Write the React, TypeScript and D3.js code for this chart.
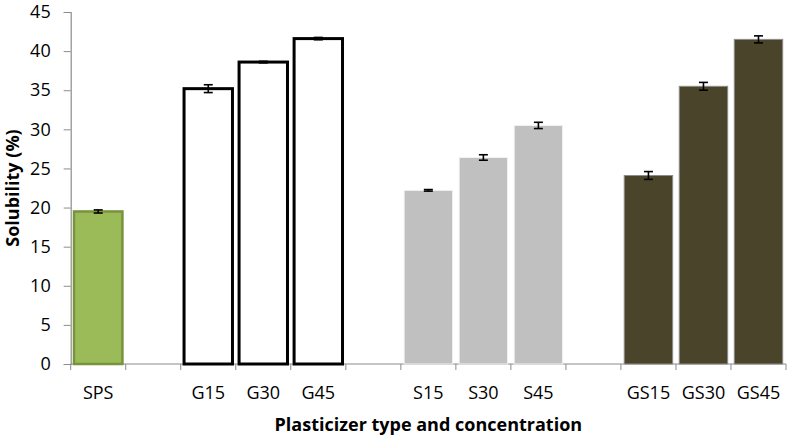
import React, { useEffect, useRef } from "react";
import * as d3 from "d3";

// categories ("" = empty slot between groups)
const categories = ["SPS", "", "G15", "G30", "G45", "", "S15", "S30", "S45", "", "GS15", "GS30", "GS45"];
const solubility = [19.5, null, 35.2, 38.6, 41.6, null, 22.2, 26.4, 30.5, null, 24.1, 35.5, 41.5];
const errors = [0.2, null, 0.5, 0.1, 0.15, null, 0.1, 0.35, 0.4, null, 0.5, 0.5, 0.45];
const groups = ["SPS", "", "G", "G", "G", "", "S", "S", "S", "", "GS", "GS", "GS"];
const yTicks = [0, 5, 10, 15, 20, 25, 30, 35, 40, 45];

const styles: Record<string, { fill: string; stroke: string; width: number }> = {
    SPS: { fill: "#9bbb59", stroke: "#77933c", width: 2.5 },
    G: { fill: "#ffffff", stroke: "#000000", width: 3 },
    S: { fill: "#c0c0c0", stroke: "#f2f2f2", width: 1 },
    GS: { fill: "#4a452a", stroke: "#8c8c8c", width: 1 },
};

const App = () => {
    const ref = useRef<SVGSVGElement>(null);

    useEffect(() => {
        const svg = d3.select(ref.current);
        svg.selectAll("*").remove();

        const width = 788;
        const height = 438;
        const margin = { top: 12, right: 2, bottom: 74, left: 70.7 };
        const font = "'Open Sans', 'Noto Sans', sans-serif";
        const fs = 18;

        const x = d3
            .scaleBand<number>()
            .domain(d3.range(categories.length))
            .range([margin.left, width - margin.right])
            .paddingInner(0.12)
            .paddingOuter(0.06);

        const y = d3
            .scaleLinear()
            .domain([0, 45])
            .range([height - margin.bottom, margin.top]);

        const axisColor = "#8c8c8c";

        // y axis
        const yAxis = svg
            .append("g")
            .attr("transform", `translate(${margin.left},0)`)
            .call(d3.axisLeft(y).tickValues(yTicks).tickSize(7).tickPadding(13));
        yAxis.select(".domain").attr("stroke", axisColor).attr("stroke-width", 1.2);
        yAxis.selectAll(".tick line").attr("stroke", axisColor);
        yAxis
            .selectAll(".tick text")
            .attr("font-family", font)
            .attr("font-size", fs)
            .attr("fill", "#000");

        // x axis: ticks at slot boundaries
        const step = x.step();
        const x0 = margin.left;
        const boundaries = d3.range(categories.length + 1).map((i) => x0 + i * step);
        const xg = svg.append("g");
        xg.append("line")
            .attr("x1", margin.left)
            .attr("x2", width - margin.right)
            .attr("y1", y(0))
            .attr("y2", y(0))
            .attr("stroke", axisColor)
            .attr("stroke-width", 1.2);
        xg.selectAll("line.tick")
            .data(boundaries)
            .enter()
            .append("line")
            .attr("class", "tick")
            .attr("x1", (d) => d)
            .attr("x2", (d) => d)
            .attr("y1", y(0))
            .attr("y2", y(0) + 6)
            .attr("stroke", axisColor);
        xg.selectAll("text")
            .data(categories)
            .enter()
            .append("text")
            .attr("x", (_, i) => (x(i) as number) + x.bandwidth() / 2)
            .attr("y", y(0) + 35)
            .attr("text-anchor", "middle")
            .attr("font-family", font)
            .attr("font-size", fs)
            .text((d) => d);

        // bars
        const idx = d3.range(categories.length).filter((i) => solubility[i] !== null);
        svg.append("g")
            .selectAll("rect")
            .data(idx)
            .enter()
            .append("rect")
            .attr("x", (i) => x(i) as number)
            .attr("width", x.bandwidth())
            .attr("y", (i) => y(solubility[i] as number))
            .attr("height", (i) => y(0) - y(solubility[i] as number))
            .attr("fill", (i) => styles[groups[i]].fill)
            .attr("stroke", (i) => styles[groups[i]].stroke)
            .attr("stroke-width", (i) => styles[groups[i]].width);

        // error bars
        const eb = svg
            .append("g")
            .selectAll("g")
            .data(idx)
            .enter()
            .append("g")
            .attr("stroke", "#000")
            .attr("stroke-width", 1.6);
        const cx = (i: number) => (x(i) as number) + x.bandwidth() / 2;
        const hi = (i: number) => y((solubility[i] as number) + (errors[i] as number));
        const lo = (i: number) => y((solubility[i] as number) - (errors[i] as number));
        eb.append("line").attr("x1", cx).attr("x2", cx).attr("y1", hi).attr("y2", lo);
        eb.append("line").attr("x1", (i) => cx(i) - 4.5).attr("x2", (i) => cx(i) + 4.5).attr("y1", hi).attr("y2", hi);
        eb.append("line").attr("x1", (i) => cx(i) - 4.5).attr("x2", (i) => cx(i) + 4.5).attr("y1", lo).attr("y2", lo);

        // axis titles
        svg.append("text")
            .attr("x", (margin.left + width - margin.right) / 2)
            .attr("y", 431)
            .attr("text-anchor", "middle")
            .attr("font-family", font)
            .attr("font-size", fs)
            .attr("font-weight", "bold")
            .text("Plasticizer type and concentration");

        svg.append("text")
            .attr("transform", `translate(19, ${(y(0) + y(45)) / 2}) rotate(-90)`)
            .attr("text-anchor", "middle")
            .attr("font-family", font)
            .attr("font-size", fs)
            .attr("font-weight", "bold")
            .text("Solubility (%)");
    }, []);

    return (
        <svg
            ref={ref}
            width={788}
            height={438}
            style={{ position: "absolute", left: 0, top: 0, background: "#fff" }}
        ></svg>
    );
};

export default App;
